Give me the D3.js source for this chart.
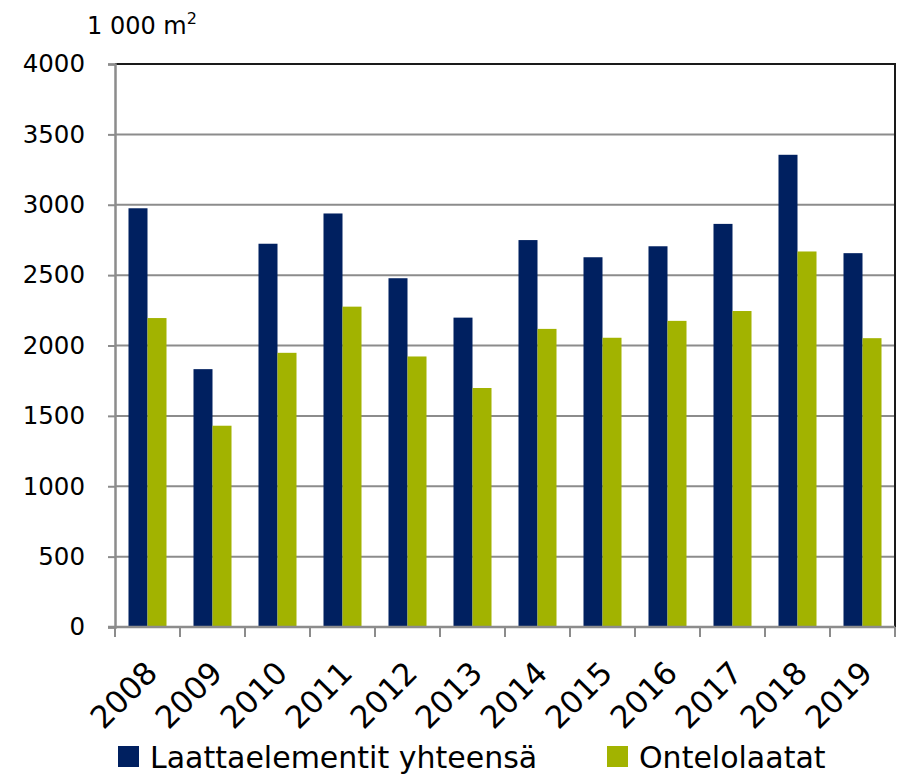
<!DOCTYPE html>
<html>
<head>
<meta charset="utf-8">
<script src="https://cdn.jsdelivr.net/npm/d3@7"></script>
<style>
	body { margin: 0; background: #fff; }
	text { font-family: "DejaVu Sans", sans-serif; fill: #000; }
</style>
</head>
<body>
<svg id="chart" width="905" height="776"></svg>
<script>
// Values, 1 000 m2
var years = ['2008', '2009', '2010', '2011', '2012', '2013', '2014', '2015', '2016', '2017', '2018', '2019'];
var laattaelementit = [2975, 1832, 2723, 2938, 2478, 2198, 2749, 2627, 2705, 2864, 3355, 2656];
var ontelolaatat = [2195, 1430, 1948, 2276, 1922, 1698, 2118, 2055, 2175, 2245, 2668, 2052];
var yTicks = [0, 500, 1000, 1500, 2000, 2500, 3000, 3500, 4000];
var seriesNames = ['Laattaelementit yhteensä', 'Ontelolaatat'];
var colors = ['#002060', '#a2b300'];

var margin = { top: 64, right: 10, bottom: 149, left: 115 };
var width = 905, height = 776;

var svg = d3.select('#chart');

var x = d3.scaleBand()
	.domain(years)
	.range([margin.left, width - margin.right]);

var y = d3.scaleLinear()
	.domain([0, 4000])
	.range([height - margin.bottom, margin.top]);

var sub = d3.scaleBand()
	.domain(seriesNames)
	.range([0, x.bandwidth()])
	.paddingOuter(0.71)
	.paddingInner(0);

// gridlines
svg.append('g')
	.selectAll('line')
	.data(yTicks.filter(function(d) { return d > 0 && d < 4000; }))
	.join('line')
	.attr('x1', margin.left)
	.attr('x2', width - margin.right)
	.attr('y1', function(d) { return y(d); })
	.attr('y2', function(d) { return y(d); })
	.attr('stroke', '#8c8c8c')
	.attr('stroke-width', 2);

// bars
var rows = years.map(function(yr, i) {
	return { year: yr, values: [laattaelementit[i], ontelolaatat[i]] };
});

svg.append('g')
	.selectAll('g')
	.data(rows)
	.join('g')
	.attr('transform', function(d) { return 'translate(' + x(d.year) + ',0)'; })
	.selectAll('rect')
	.data(function(d) { return d.values.map(function(v, j) { return { name: seriesNames[j], value: v, color: colors[j] }; }); })
	.join('rect')
	.attr('x', function(d) { return sub(d.name); })
	.attr('width', sub.bandwidth())
	.attr('y', function(d) { return y(d.value); })
	.attr('height', function(d) { return y(0) - y(d.value); })
	.attr('fill', function(d) { return d.color; });

// plot frame: top and right black
svg.append('path')
	.attr('d', 'M' + margin.left + ',' + y(4000) + 'H' + (width - margin.right) + 'V' + y(0))
	.attr('fill', 'none')
	.attr('stroke', '#1a1a1a')
	.attr('stroke-width', 2);

// y axis
var yAxis = svg.append('g')
	.attr('transform', 'translate(' + margin.left + ',0)')
	.call(d3.axisLeft(y).tickValues(yTicks).tickSize(7).tickPadding(23).tickFormat(d3.format('d')));
yAxis.select('.domain').attr('stroke', '#8c8c8c').attr('stroke-width', 2.5);
yAxis.selectAll('.tick line').attr('stroke', '#8c8c8c').attr('stroke-width', 2);
yAxis.selectAll('.tick text').attr('font-size', 24.5).attr('fill', '#000');

// x axis, ticks between categories
var xAxisG = svg.append('g');
xAxisG.append('line')
	.attr('x1', margin.left - 7)
	.attr('x2', width - margin.right)
	.attr('y1', y(0))
	.attr('y2', y(0))
	.attr('stroke', '#8c8c8c')
	.attr('stroke-width', 2.5);

var tickX = years.map(function(d) { return x(d); }).concat([x(years[years.length - 1]) + x.bandwidth()]);
xAxisG.selectAll('line.tk')
	.data(tickX)
	.join('line')
	.attr('class', 'tk')
	.attr('x1', function(d) { return d; })
	.attr('x2', function(d) { return d; })
	.attr('y1', y(0))
	.attr('y2', y(0) + 10)
	.attr('stroke', '#8c8c8c')
	.attr('stroke-width', 2);

xAxisG.selectAll('text')
	.data(years)
	.join('text')
	.attr('transform', function(d) {
		return 'translate(' + (x(d) + x.bandwidth() / 2 - 4) + ',' + (y(0) + 32) + ') rotate(-45)';
	})
	.attr('text-anchor', 'end')
	.attr('dy', '0.72em')
	.attr('font-size', 31)
	.text(function(d) { return d; });

// unit label
var unit = svg.append('text')
	.attr('x', 87)
	.attr('y', 34)
	.attr('font-size', 24);
unit.append('tspan').text('1 000 m');
unit.append('tspan').attr('font-size', 16).attr('dy', -10).text('2');

// legend
var legendX = [118, 607];
var legend = svg.append('g')
	.selectAll('g')
	.data(seriesNames)
	.join('g')
	.attr('transform', function(d, i) { return 'translate(' + legendX[i] + ',746)'; });

legend.append('rect')
	.attr('width', 21)
	.attr('height', 21)
	.attr('fill', function(d, i) { return colors[i]; });

legend.append('text')
	.attr('x', 32)
	.attr('y', 22)
	.attr('font-size', 30)
	.text(function(d) { return d; });
</script>
</body>
</html>
